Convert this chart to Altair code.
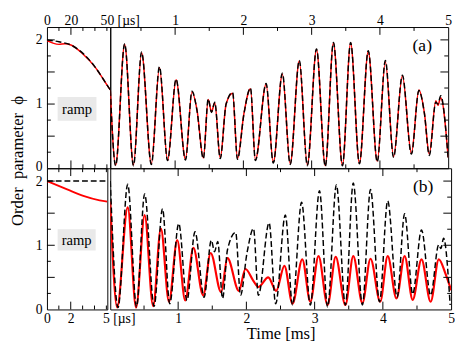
import altair as alt
import pandas as pd

# ---------------- data ----------------
# panel (a): ramp part, time in microseconds
a_ramp_t_black = [0, 10, 20, 30, 40, 50, 52.8]
a_ramp_v_black = [2.0, 1.97, 1.92, 1.79, 1.58, 1.30, 1.22]
a_ramp_t_red = [0, 5, 10, 15, 20, 30, 40, 50, 52.8]
a_ramp_v_red = [1.99, 1.95, 1.93, 1.94, 1.92, 1.78, 1.58, 1.30, 1.22]

# panel (a): evolution, time in ms
a_t_black = [0.05, 0.129, 0.261, 0.39, 0.509, 0.652, 0.771, 0.89, 1.014, 1.152, 1.247, 1.319,
             1.414, 1.485, 1.533, 1.581, 1.661, 1.747, 1.842, 1.914, 2.009, 2.104, 2.176, 2.333,
             2.438, 2.571, 2.686, 2.819, 2.937, 3.071, 3.2, 3.319, 3.451, 3.571, 3.7, 3.829,
             3.961, 4.08, 4.2, 4.329, 4.461, 4.571, 4.652, 4.723, 4.819, 4.85, 4.89, 5.0]
a_v_black = [1.22, 0.04, 1.94, 0.04, 1.81, 0.06, 1.58, 0.12, 1.39, 0.13, 1.20, 0.91,
             0.15, 1.08, 0.87, 1.03, 0.15, 1.00, 1.18, 0.14, 0.85, 1.25, 0.12, 1.32,
             0.08, 1.48, 0.06, 1.68, 0.04, 1.86, 0.03, 1.96, 0.04, 1.96, 0.07, 1.83,
             0.10, 1.68, 0.17, 1.45, 0.22, 1.21, 0.85, 0.20, 1.03, 1.00, 1.13, 0.15]
a_t_red = [0.05, 0.129, 0.261, 0.39, 0.509, 0.652, 0.771, 0.89, 1.014, 1.152, 1.247, 1.319,
           1.414, 1.485, 1.533, 1.581, 1.661, 1.747, 1.842, 1.914, 2.009, 2.104, 2.176, 2.333,
           2.438, 2.571, 2.686, 2.819, 2.937, 3.071, 3.2, 3.319, 3.451, 3.571, 3.7, 3.829,
           3.961, 4.08, 4.2, 4.329, 4.461, 4.571, 4.652, 4.723, 4.819, 4.85, 4.89, 5.0]
a_v_red = [1.22, 0.05, 1.93, 0.05, 1.80, 0.07, 1.57, 0.12, 1.38, 0.14, 1.19, 0.92,
           0.16, 1.07, 0.88, 1.02, 0.16, 1.00, 1.17, 0.15, 0.86, 1.24, 0.13, 1.31,
           0.09, 1.47, 0.07, 1.67, 0.05, 1.85, 0.04, 1.95, 0.05, 1.95, 0.08, 1.82,
           0.11, 1.66, 0.18, 1.44, 0.23, 1.22, 0.86, 0.22, 1.05, 0.98, 1.10, 0.17]

# panel (b): ramp part, time in microseconds
b_ramp_t_black = [0, 5.08]
b_ramp_v_black = [2.0, 2.0]
b_ramp_t_red = [0, 1.7, 3.06, 4.43, 5.08]
b_ramp_v_red = [2.0, 1.87, 1.77, 1.70, 1.68]

# panel (b): evolution, time in ms
b_t_black = [0.005, 0.119, 0.261, 0.39, 0.509, 0.647, 0.771, 0.876, 1.009, 1.129, 1.247, 1.38,
             1.486, 1.533, 1.58, 1.651, 1.723, 1.843, 1.914, 2.009, 2.104, 2.176, 2.333, 2.429,
             2.571, 2.676, 2.809, 2.937, 3.071, 3.19, 3.319, 3.451, 3.566, 3.7, 3.819, 3.951,
             4.071, 4.209, 4.319, 4.437, 4.566, 4.7, 4.819, 4.85, 4.89, 4.986]
b_v_black = [2.0, 0.03, 1.95, 0.04, 1.80, 0.05, 1.57, 0.09, 1.34, 0.14, 1.21, 0.19,
             1.08, 0.90, 1.06, 0.17, 0.93, 1.20, 0.22, 0.88, 1.26, 0.22, 1.35, 0.09,
             1.47, 0.07, 1.67, 0.07, 1.85, 0.04, 1.94, 0.07, 1.97, 0.07, 1.87, 0.12,
             1.69, 0.19, 1.49, 0.24, 1.24, 0.22, 1.01, 0.95, 1.11, 0.07]
b_t_red = [0.005, 0.106, 0.261, 0.383, 0.509, 0.633, 0.747, 0.866, 0.986, 1.104, 1.223, 1.366,
           1.476, 1.629, 1.723, 1.89, 1.986, 2.1, 2.176, 2.32, 2.437, 2.557, 2.676, 2.819,
           2.937, 3.057, 3.19, 3.309, 3.451, 3.566, 3.7, 3.819, 3.961, 4.071, 4.199, 4.319,
           4.437, 4.566, 4.7, 4.819, 4.92, 5.0]
b_v_red = [1.68, 0.03, 1.59, 0.03, 1.47, 0.05, 1.26, 0.12, 1.08, 0.14, 0.96, 0.22,
           0.88, 0.27, 0.80, 0.29, 0.63, 0.45, 0.35, 0.50, 0.29, 0.68, 0.09, 0.78,
           0.12, 0.83, 0.07, 0.82, 0.07, 0.83, 0.10, 0.79, 0.12, 0.83, 0.17, 0.83,
           0.15, 0.78, 0.12, 0.78, 0.55, 0.30]

# tick positions
a_ramp_minor = [10, 30, 40, 50]
a_ramp_major = [20]
b_ramp_minor = [1, 3, 4, 5]
b_ramp_major = [2]
evo_minor = [0.5, 1.5, 2.5, 3.5, 4.5]
evo_major = [1, 2, 3, 4]
y_minor = [0.25, 0.75, 1.25, 1.75]
y_major = [0.5, 1.0, 1.5, 2.0]

# annotations
panel_tags = ["(a)", "(b)"]
tag_t = [4.62, 4.59]
tag_v = [1.91, 1.91]
ramp_box_a = {"x1": 8.9, "x2": 41.3, "y1": 0.74, "y2": 1.11, "tx": 25.1, "ty": 0.92}
ramp_box_b = {"x1": 0.9, "x2": 4.1, "y1": 0.92, "y2": 1.25, "tx": 2.5, "ty": 1.08}

# ---------------- layout ----------------
H = 145
W_AL, W_AR, W_BL, W_BR = 65, 347, 62, 350
SERIF = "'Liberation Serif', 'Times New Roman', Times, serif"
YSCALE = alt.Scale(domain=[0, 2.2], nice=False, zero=False)
MAJ, MIN = 8, 4


def build_panel(W, xscale, xaxis, yaxis, series, xminor, xmajor, yside, extras):
    X = lambda f: alt.X(f"{f}:Q", scale=xscale, axis=xaxis)
    Y = lambda f: alt.Y(f"{f}:Q", scale=YSCALE, axis=yaxis)
    layers = []
    for t, v, color, dash, sw in series:
        df = pd.DataFrame({"t": t, "v": v})
        mk = dict(color=color, strokeWidth=sw, interpolate="monotone", clip=True)
        if dash:
            mk["strokeDash"] = dash
        layers.append(alt.Chart(df).mark_line(**mk).encode(x=X("t"), y=Y("v")))
    for vals, L in ((xminor, MIN), (xmajor, MAJ)):
        df = pd.DataFrame({"pos": vals})
        layers.append(alt.Chart(df).mark_rule(color="black", strokeWidth=1).encode(
            x=X("pos"), y=alt.value(0), y2=alt.value(L)))
        layers.append(alt.Chart(df).mark_rule(color="black", strokeWidth=1).encode(
            x=X("pos"), y=alt.value(H), y2=alt.value(H - L)))
    for vals, L in ((y_minor, MIN), (y_major, MAJ)):
        df = pd.DataFrame({"pos": vals})
        x0 = 0 if yside == "left" else W
        x1 = L if yside == "left" else W - L
        layers.append(alt.Chart(df).mark_rule(color="black", strokeWidth=1).encode(
            y=Y("pos"), x=alt.value(x0), x2=alt.value(x1)))
    for e in extras:
        layers.append(e(X, Y))
    return alt.layer(*layers).properties(width=W, height=H)


def ramp_label(box):
    def f(X, Y):
        df = pd.DataFrame([box])
        rect = alt.Chart(df).mark_rect(color="#e9e9e9").encode(
            x=X("x1"), x2="x2:Q", y=Y("y1"), y2="y2:Q")
        txt = alt.Chart(df).mark_text(text="ramp", font=SERIF, fontSize=15, color="black").encode(
            x=X("tx"), y=Y("ty"))
        return alt.layer(rect, txt)
    return f


def tag_label(i):
    def f(X, Y):
        df = pd.DataFrame({"tx": [tag_t[i]], "ty": [tag_v[i]], "lab": [panel_tags[i]]})
        return alt.Chart(df).mark_text(font=SERIF, fontSize=18, color="black").encode(
            x=X("tx"), y=Y("ty"), text="lab:N")
    return f


def us_axis(orient, values, last, off):
    cond = f"datum.value == {last}"
    return alt.Axis(
        orient=orient, values=values, title=None,
        labelExpr=f"{cond} ? '{last} [µs]' : datum.label",
        labelAlign={"condition": {"test": cond, "value": "left"}, "value": "center"},
        labelOffset={"condition": {"test": cond, "value": off}, "value": 0},
        labelPadding=0 if orient == "top" else 2,
    )


y_left_a = alt.Axis(values=[0, 1, 2], title=None, labelPadding=5,
                    labelOffset={"condition": {"test": "datum.value == 0", "value": -2},
                                 "value": 0})
y_left_b = alt.Axis(values=[0, 1, 2], title="Order\u00a0 parameter\u00a0 ϕ", labelPadding=5,
                    titlePadding=9, titleY=-8,
                    labelOffset={"condition": {"test": "datum.value == 2", "value": 1},
                                 "value": 0})

aL = build_panel(
    W_AL, alt.Scale(domain=[0, 52.8], nice=False, zero=False),
    us_axis("top", [0, 20, 50], 50, -7), y_left_a,
    [(a_ramp_t_red, a_ramp_v_red, "#ff0000", None, 1.5),
     (a_ramp_t_black, a_ramp_v_black, "black", [6, 3], 1.5)],
    a_ramp_minor, a_ramp_major, "left", [ramp_label(ramp_box_a)])

aR = build_panel(
    W_AR, alt.Scale(domain=[0.05, 5], nice=False, zero=False),
    alt.Axis(orient="top", values=[1, 2, 3, 4, 5], title=None, labelPadding=0), None,
    [(a_t_red, a_v_red, "#ff0000", None, 1.5),
     (a_t_black, a_v_black, "black", [6, 3], 1.5)],
    evo_minor, evo_major, "right", [tag_label(0)])

bL = build_panel(
    W_BL, alt.Scale(domain=[0, 5.08], nice=False, zero=False),
    us_axis("bottom", [0, 2, 5], 5, -4), y_left_b,
    [(b_ramp_t_red, b_ramp_v_red, "#ff0000", None, 1.8),
     (b_ramp_t_black, b_ramp_v_black, "black", [6, 3], 1.5)],
    b_ramp_minor, b_ramp_major, "left", [ramp_label(ramp_box_b)])

bR = build_panel(
    W_BR, alt.Scale(domain=[0.005, 5], nice=False, zero=False),
    alt.Axis(orient="bottom", values=[1, 2, 3, 4, 5], title="Time [ms]", labelPadding=2,
             titlePadding=1), None,
    [(b_t_red, b_v_red, "#ff0000", None, 2.2),
     (b_t_black, b_v_black, "black", [6, 3], 1.5)],
    evo_minor, evo_major, "right", [tag_label(1)])

chart = alt.concat(aL, aR, bL, bR, columns=2, spacing=0, bounds="flush", align="none").properties(
    padding=0, background="white"
).configure_view(stroke="black", strokeWidth=1).configure_axis(
    labelFont=SERIF, labelFontSize=14, titleFont=SERIF, titleFontSize=17,
    titleFontWeight="normal", ticks=False, domain=False, grid=False,
    labelFlush=False, labelOverlap=False, labelColor="black", titleColor="black",
)

chart.save("out.html", embed_options={"renderer": "svg", "actions": False})
